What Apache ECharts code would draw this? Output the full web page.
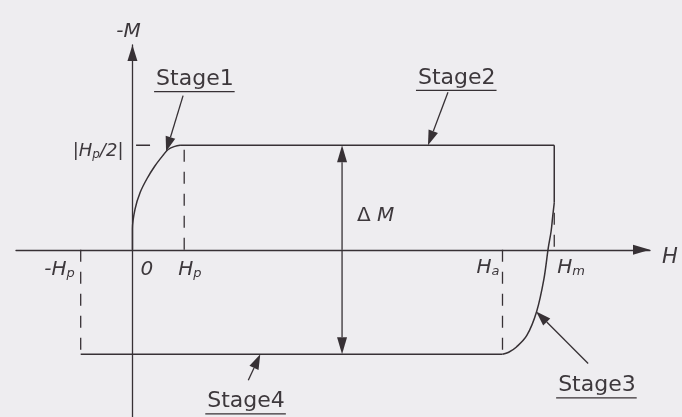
<!DOCTYPE html>
<html>
<head>
<meta charset="utf-8">
<script src="https://cdn.jsdelivr.net/npm/echarts@6/dist/echarts.min.js"></script>
<style>
  html, body { margin: 0; padding: 0; background: #eeedf0; }
  #chart { width: 682px; height: 417px; }
</style>
</head>
<body>
<div id="chart"></div>
<script>
// Field H is measured in units of Hp, magnetisation -M in units of |Hp/2|.
const Hp = 1;
const Ha = 7.15;
const Hm = 8.15;
const Msat = 1;

// Stage 1: virgin curve rising from the origin to the saturated level
const stage1 = [[0, 0], [0, 0.2], [0.05, 0.39], [0.15, 0.55], [0.28, 0.68], [0.43, 0.8], [0.6, 0.91], [0.69, 0.96], [0.82, 0.99], [0.92, 1]];
// Stage 2: saturated plateau up to the maximum field
const stage2 = [[0.92, 1], [Hm, 1]];
// Field reversal at Hm, vertical drop before the return branch bends
const reversal = [[Hm, 1], [Hm, 0.45]];
// Stage 3: return branch bending down to the lower level at Ha
const stage3 = [[Hm, 0.45], [8.12, 0.32], [8.09, 0.18], [8.035, 0.02], [7.95, -0.28], [7.81, -0.59], [7.62, -0.82], [7.42, -0.93], [7.27, -0.98], [Ha, -1]];
// Stage 4: lower plateau back to -Hp
const stage4 = [[Ha, -1], [-Hp, -1]];

// Dashed guides marking the characteristic fields
const guideHp = [[Hp, 0], [Hp, 0.97]];
const guideMinusHp = [[-Hp, 0], [-Hp, -1]];
const guideHa = [[Ha, 0], [Ha, -1]];
const guideHm = [[Hm, 0.03], [Hm, 0.42]];
const levelTick = [[0.07, Msat], [0.34, Msat]];

// Annotation anchors (points on the curves that the arrows touch)
const stageTips = { Stage1: [0.65, 0.94], Stage2: [5.71, 1], Stage3: [7.8, -0.59], Stage4: [2.47, -1] };
const deltaMAt = 4.05;

const INK = '#373135';
const TEXT = '#3d383c';
const FAMILY = '"DejaVu Sans", "Liberation Sans", sans-serif';

const chart = echarts.init(document.getElementById('chart'), null, { renderer: 'canvas' });

function solid(name, data, smooth) {
  return {
    name, type: 'line', data, symbol: 'none', smooth: smooth || false, silent: true,
    lineStyle: { color: INK, width: 1.5 }, z: 3
  };
}
function dashed(name, data) {
  return {
    name, type: 'line', data, symbol: 'none', silent: true,
    lineStyle: { color: INK, width: 1.3, type: [12, 10] }, z: 2
  };
}

const axisLine = (len) => ({
  onZero: true,
  symbol: ['none', 'triangle'],
  symbolSize: [10, len],
  symbolOffset: [0, -len / 2],
  lineStyle: { color: INK, width: 1.3 }
});

chart.setOption({
  animation: false,
  backgroundColor: '#eeedf0',
  grid: { left: 16, top: 45, width: 634, height: 374 },
  xAxis: {
    type: 'value', min: -2.25, max: 10,
    axisLine: axisLine(17), axisTick: { show: false }, axisLabel: { show: false }, splitLine: { show: false }
  },
  yAxis: {
    type: 'value', min: -1.6, max: 1.96,
    axisLine: axisLine(16), axisTick: { show: false }, axisLabel: { show: false }, splitLine: { show: false }
  },
  series: [
    solid('Stage1', stage1, 0.35),
    solid('Stage2', stage2),
    solid('reversal', reversal),
    solid('Stage3', stage3, 0.35),
    solid('Stage4', stage4),
    dashed('Hp', guideHp),
    dashed('-Hp', guideMinusHp),
    dashed('Ha', guideHa),
    dashed('Hm', guideHm),
    solid('|Hp/2|', levelTick)
  ]
});

// ---- annotations ----
const px = (p) => chart.convertToPixel({ gridIndex: 0 }, p);
const mctx = document.createElement('canvas').getContext('2d');
function measure(text, font) { mctx.font = font; return mctx.measureText(text).width; }

function textEl(text, x, y, font) {
  return {
    type: 'text', x, y, silent: true, z: 10,
    style: { text, font, fill: TEXT, textAlign: 'left', textVerticalAlign: 'middle', align: 'left', verticalAlign: 'middle' }
  };
}

// Math label built from runs: m = italic, s = italic subscript, u = upright
function mathLabel(parts, x, capY, size, align) {
  const subSize = Math.round(size * 0.65);
  const fonts = {
    m: { font: 'italic ' + size + 'px ' + FAMILY, dy: 0.07 * size },
    u: { font: size + 'px ' + FAMILY, dy: 0.07 * size },
    s: { font: 'italic ' + subSize + 'px ' + FAMILY, dy: 0.07 * size + 0.297 * size + 1.5 - 0.297 * subSize }
  };
  const widths = parts.map(p => measure(p[0], fonts[p[1]].font));
  const total = widths.reduce((a, b) => a + b, 0);
  let cx = align === 'right' ? x - total : (align === 'center' ? x - total / 2 : x);
  return parts.map((p, i) => {
    const el = textEl(p[0], cx, capY + fonts[p[1]].dy, fonts[p[1]].font);
    cx += widths[i];
    return el;
  });
}

function arrow(tail, tip, len, wid, lw) {
  const dx = tip[0] - tail[0], dy = tip[1] - tail[1];
  const d = Math.hypot(dx, dy);
  const ux = dx / d, uy = dy / d;
  const bx = tip[0] - ux * len, by = tip[1] - uy * len;
  const nx = -uy * wid / 2, ny = ux * wid / 2;
  return [
    { type: 'line', silent: true, z: 9, shape: { x1: tail[0], y1: tail[1], x2: bx, y2: by }, style: { stroke: INK, lineWidth: lw || 1.3 } },
    { type: 'polygon', silent: true, z: 9, shape: { points: [[tip[0], tip[1]], [bx + nx, by + ny], [bx - nx, by - ny]] }, style: { fill: INK } }
  ];
}

const STAGE_FONT = '22px ' + FAMILY;
// tail offset, label left / cap-centre offset from the arrow tip
const stageLayout = {
  Stage1: { tail: [17, -56], label: [-10, -74] },
  Stage2: { tail: [20, -53], label: [-10, -69] },
  Stage3: { tail: [52, 52], label: [22, 72.5] },
  Stage4: { tail: [-12, 26], label: [-53, 45.5] }
};

const graphics = [];
Object.keys(stageTips).forEach(name => {
  const tip = px(stageTips[name]);
  const lay = stageLayout[name];
  graphics.push(...arrow([tip[0] + lay.tail[0], tip[1] + lay.tail[1]], tip, 15, 10));
  const lx = tip[0] + lay.label[0], ly = tip[1] + lay.label[1];
  graphics.push(textEl(name, lx, ly + 1.5, STAGE_FONT));
  const w = measure(name, STAGE_FONT);
  const uy = ly + 14;
  graphics.push({ type: 'line', silent: true, z: 9, shape: { x1: lx - 2, y1: uy, x2: lx + w + 1, y2: uy }, style: { stroke: INK, lineWidth: 1.3 } });
});

// Double-headed Delta M arrow between the plateaus
const dTop = px([deltaMAt, Msat]);
const dBot = px([deltaMAt, -Msat]);
const dMid = [(dTop[0] + dBot[0]) / 2, (dTop[1] + dBot[1]) / 2];
graphics.push(...arrow(dMid, dTop, 17, 10));
graphics.push(...arrow(dMid, dBot, 17, 10));
graphics.push(...mathLabel([['\u0394 ', 'u'], ['M', 'm']], dTop[0] + 15, dTop[1] + 69, 20, 'left'));

// Axis titles
const o = px([0, 0]);
const yTop = px([0, 1.96]);
const xEnd = px([10, 0]);
graphics.push(...mathLabel([['-M', 'm']], yTop[0] - 4, 30, 20, 'center'));
graphics.push(...mathLabel([['H', 'm']], xEnd[0] + 12, o[1] + 6, 21, 'left'));

// Field markers along the H axis
const pHp = px([Hp, 0]), pmHp = px([-Hp, 0]), pHa = px([Ha, 0]), pHm = px([Hm, 0]);
graphics.push(...mathLabel([['0', 'm']], o[0] + 8, o[1] + 18.5, 20, 'left'));
graphics.push(...mathLabel([['H', 'm'], ['p', 's']], pHp[0] - 6, o[1] + 18.5, 20, 'left'));
graphics.push(...mathLabel([['-H', 'm'], ['p', 's']], pmHp[0] - 6, o[1] + 18.5, 20, 'right'));
graphics.push(...mathLabel([['H', 'm'], ['a', 's']], pHa[0] - 3, o[1] + 16.5, 20, 'right'));
graphics.push(...mathLabel([['H', 'm'], ['m', 's']], pHm[0] + 3, o[1] + 16.5, 20, 'left'));

// Saturation level on the -M axis
const pLevel = px([0, Msat]);
graphics.push(...mathLabel([['|H', 'm'], ['p', 's'], ['/2|', 'm']], pLevel[0] - 9, pLevel[1] + 5, 18, 'right'));

chart.setOption({ graphic: graphics });
</script>
</body>
</html>
